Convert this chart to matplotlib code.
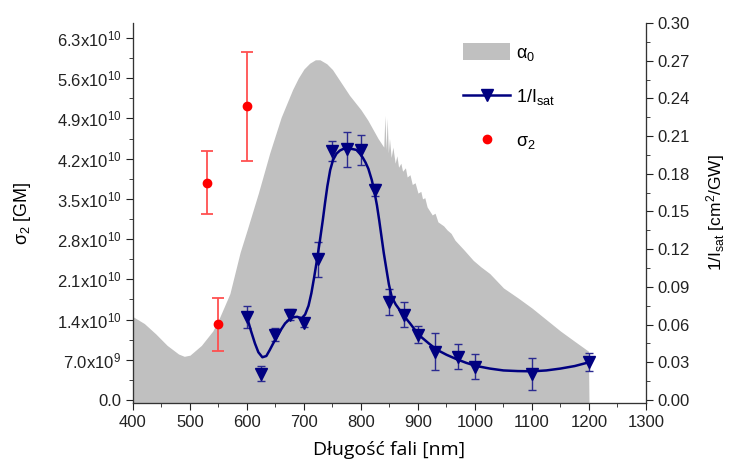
import matplotlib
matplotlib.use("Agg")
import matplotlib.pyplot as plt
from matplotlib.patches import Patch
from matplotlib.lines import Line2D

plt.rcParams['font.family'] = ['Liberation Sans', 'DejaVu Sans']
plt.rcParams['mathtext.fontset'] = 'custom'
plt.rcParams['mathtext.rm'] = 'Liberation Sans'
plt.rcParams['mathtext.it'] = 'Liberation Sans:italic'

# absorption spectrum alpha0 (a.u.)
alpha_nm = [400, 420, 440, 460, 480, 490, 500, 520, 540, 550, 570, 588, 600, 620, 640,
            660, 680, 690, 700, 710, 720, 728, 740, 750, 760, 780, 800, 812, 830, 840,
            842, 844, 846, 848, 850, 853, 856, 860, 863, 866, 870, 873, 878, 881, 886,
            890, 895, 900, 905, 908, 912, 916, 925, 930, 935, 945, 951, 958, 965, 980,
            997, 1010, 1026, 1050, 1075, 1100, 1125, 1150, 1175, 1199, 1200]
alpha0 = [1.45, 1.33, 1.15, 0.95, 0.80, 0.76, 0.78, 0.95, 1.20, 1.39, 1.85, 2.57, 2.95,
          3.60, 4.30, 4.92, 5.40, 5.60, 5.76, 5.86, 5.92, 5.92, 5.85, 5.75, 5.60, 5.30,
          5.05, 4.87, 4.55, 4.40, 4.95, 4.35, 4.90, 4.30, 4.55, 4.22, 4.40, 4.12, 4.25,
          4.05, 4.12, 3.98, 4.04, 3.88, 3.92, 3.75, 3.78, 3.60, 3.63, 3.50, 3.52, 3.36,
          3.22, 3.25, 3.10, 3.03, 2.96, 2.90, 2.78, 2.62, 2.43, 2.32, 2.20, 1.95, 1.78,
          1.60, 1.40, 1.20, 1.02, 0.85, 0.0]

# 1/Isat measurements
isat_nm = [600, 625, 650, 675, 700, 725, 750, 775, 800, 825, 850, 875, 900, 930, 970, 1000, 1100, 1200]
isat = [0.066, 0.021, 0.052, 0.068, 0.061, 0.112, 0.198, 0.1995, 0.199, 0.167, 0.078,
        0.068, 0.052, 0.0385, 0.0345, 0.0265, 0.0207, 0.030]
isat_err = [0.009, 0.006, 0.005, 0.004, 0.003, 0.014, 0.008, 0.014, 0.012, 0.005, 0.010,
            0.010, 0.007, 0.015, 0.010, 0.010, 0.013, 0.007]

# smooth fit through 1/Isat
fit_nm = [600, 607, 614, 620, 627, 634, 640, 646, 652, 659, 667, 674, 681, 688, 696, 702,
          708, 713, 718, 723, 728, 733, 737, 741, 746, 751, 757, 763, 769, 775, 781, 787,
          792, 798, 803, 808, 813, 819, 823, 828, 832, 836, 840, 845, 849, 854, 861, 868,
          877, 886, 896, 906, 919, 933, 950, 968, 985, 1003, 1026, 1050, 1075, 1100, 1125,
          1150, 1175, 1200]
fit_val = [0.066, 0.055, 0.045, 0.038, 0.034, 0.035, 0.0398, 0.045, 0.050, 0.0555, 0.061,
           0.064, 0.0658, 0.0662, 0.065, 0.068, 0.075, 0.085, 0.098, 0.112, 0.127, 0.143,
           0.157, 0.170, 0.183, 0.191, 0.196, 0.1985, 0.1998, 0.200, 0.200, 0.1995, 0.199,
           0.196, 0.193, 0.189, 0.184, 0.175, 0.167, 0.155, 0.143, 0.130, 0.117, 0.103,
           0.092, 0.082, 0.076, 0.0716, 0.066, 0.061, 0.055, 0.050, 0.045, 0.040, 0.036,
           0.0324, 0.0295, 0.027, 0.025, 0.0235, 0.023, 0.0228, 0.0235, 0.025, 0.027, 0.030]

# sigma2 (GM)
s2_nm = [530, 550, 600]
s2 = [3.78e10, 1.32e10, 5.11e10]
s2_err = [0.55e10, 0.46e10, 0.95e10]

left_ticks = [0, 0.7e10, 1.4e10, 2.1e10, 2.8e10, 3.5e10, 4.2e10, 4.9e10, 5.6e10, 6.3e10]
left_labels = ['0.0', r'$\mathregular{7.0x10^9}$', r'$\mathregular{1.4x10^{10}}$',
               r'$\mathregular{2.1x10^{10}}$', r'$\mathregular{2.8x10^{10}}$',
               r'$\mathregular{3.5x10^{10}}$', r'$\mathregular{4.2x10^{10}}$',
               r'$\mathregular{4.9x10^{10}}$', r'$\mathregular{5.6x10^{10}}$',
               r'$\mathregular{6.3x10^{10}}$']
right_ticks = [0.00, 0.03, 0.06, 0.09, 0.12, 0.15, 0.18, 0.21, 0.24, 0.27, 0.30]
right_labels = ['0.00', '0.03', '0.06', '0.09', '0.12', '0.15', '0.18', '0.21', '0.24', '0.27', '0.30']
x_ticks = [400, 500, 600, 700, 800, 900, 1000, 1100, 1200, 1300]

fig = plt.figure(figsize=(7.29, 4.75), dpi=100)
ax = fig.add_axes([0.1824, 0.1516, 0.7037, 0.80])
ax.fill_between(alpha_nm, alpha0, -1, color='#c0c0c0', lw=0)
ax.set_xlim(400, 1300)
ax.set_ylim(-0.052, 6.56)
ax.set_yticks([])
ax.set_xticks(x_ticks)
ax.set_xticks(range(450, 1300, 100), minor=True)
ax.tick_params(axis='x', which='major', direction='out', length=5, labelsize=12, colors='#222222')
ax.tick_params(axis='x', which='minor', direction='out', length=3, colors='#222222')
ax.set_xlabel('Długość fali [nm]', fontsize=14, family=['Open Sans', 'DejaVu Sans'], labelpad=8)

# sigma2 axis on the left
axs = ax.twinx()
axs.yaxis.tick_left()
axs.yaxis.set_label_position('left')
axs.errorbar(s2_nm, s2, yerr=s2_err, fmt='o', color='red', ms=6, ecolor='#ff5050',
             elinewidth=1.3, capsize=4, capthick=1.3)
axs.set_ylim(-0.052e10, 6.56e10)
axs.set_yticks(left_ticks)
axs.set_yticklabels(left_labels)
axs.set_yticks([0.35e10 + 0.7e10 * i for i in range(9)], minor=True)
axs.tick_params(axis='y', which='major', direction='out', length=5, labelsize=12, colors='#222222')
axs.tick_params(axis='y', which='minor', direction='out', length=3, colors='#222222')
axs.set_ylabel(r'$\mathregular{σ_2}$ [GM]', fontsize=13)
axs.yaxis.set_label_coords(-0.195, 0.5)

# 1/Isat axis on the right
axi = ax.twinx()
axi.errorbar(isat_nm, isat, yerr=isat_err, fmt='v', color='#000080', ms=8,
             elinewidth=1.0, capsize=3, capthick=1.0, ecolor='#2a2a90')
axi.plot(fit_nm, fit_val, color='#000080', lw=1.8)
axi.set_ylim(-0.0024, 0.30)
axi.set_yticks(right_ticks)
axi.set_yticklabels(right_labels)
axi.set_yticks([0.015 + 0.03 * i for i in range(10)], minor=True)
axi.tick_params(axis='y', which='major', direction='out', length=5, labelsize=12, colors='#222222')
axi.tick_params(axis='y', which='minor', direction='out', length=3, colors='#222222')
axi.set_ylabel(r'$\mathregular{1/I_{sat}}$ [cm$\mathregular{^2}$/GW]', fontsize=12.5)
axi.yaxis.set_label_coords(1.113, 0.5)

for a in (ax, axs, axi):
    a.spines['top'].set_visible(False)
    for s in ('left', 'right', 'bottom'):
        a.spines[s].set_color('#333333')

handles = [Patch(facecolor='#c0c0c0', edgecolor='none'),
           Line2D([], [], color='#000080', marker='v', ms=8, lw=1.8),
           Line2D([], [], color='red', marker='o', ms=6, lw=0)]
labels = [r'$\mathregular{α_0}$', r'$\mathregular{1/I_{sat}}$', r'$\mathregular{σ_2}$']
axi.legend(handles, labels, loc='upper left', bbox_to_anchor=(0.612, 0.99), frameon=False,
           fontsize=13, labelspacing=1.35, handlelength=2.6, handleheight=1.1, handletextpad=0.3)

fig.savefig('out.png', dpi=100)
